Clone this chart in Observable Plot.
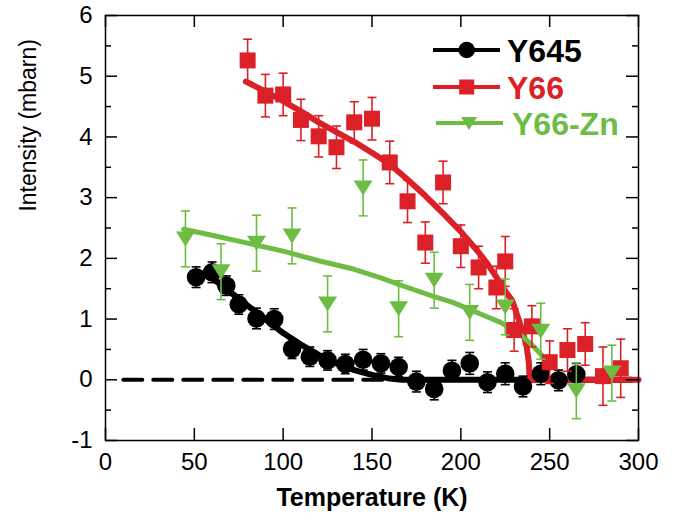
<!DOCTYPE html>
<html><head><meta charset="utf-8">
<script src="https://cdn.jsdelivr.net/npm/d3@7"></script>
<script src="https://cdn.jsdelivr.net/npm/@observablehq/plot@0.6"></script>
<style>body{margin:0;background:#fff} #chart{width:685px;height:522px}</style>
</head><body><div id="chart"></div>
<script>
// ---- data ----
const T645 = [51,60,68,75,85,95,105,115,125,135,145,155,165,175,185,195,205,215,225,235,245,255,265];
const I645 = [1.69,1.77,1.55,1.24,1.01,1.00,0.51,0.38,0.32,0.26,0.33,0.27,0.21,-0.03,-0.15,0.15,0.27,-0.04,0.10,-0.11,0.10,-0.01,0.09];
const E645 = [0.17,0.17,0.16,0.16,0.17,0.17,0.16,0.16,0.16,0.16,0.17,0.16,0.16,0.17,0.18,0.17,0.18,0.17,0.18,0.17,0.18,0.17,0.18];

const T66 = [80,90,100,110,120,130,140,150,160,170,180,190,200,210,220,225,230,240,250,260,270,280,290];
const I66 = [5.26,4.68,4.70,4.28,4.01,3.83,4.24,4.30,3.58,2.94,2.26,3.25,2.20,1.85,1.52,1.95,0.82,0.88,0.29,0.49,0.59,0.06,0.19];
const E66 = [0.35,0.35,0.35,0.34,0.34,0.35,0.34,0.35,0.35,0.35,0.34,0.35,0.35,0.35,0.35,0.41,0.35,0.34,0.35,0.35,0.35,0.48,0.48];

const TZn = [45,65,85,105,125,145,165,185,205,225,245,265,285];
const IZn = [2.32,1.78,2.25,2.37,1.25,3.16,1.17,1.64,1.11,1.20,0.80,-0.18,0.11];
const EZn = [0.46,0.46,0.46,0.46,0.46,0.46,0.46,0.46,0.46,0.46,0.46,0.46,0.46];

const fit645T = [58,70,80,90,100,110,120,130,140,150,160,167,296];
const fit645I = [1.72,1.45,1.22,1.0,0.77,0.58,0.41,0.27,0.16,0.08,0.02,0,0];
const fit66T = [79,90,100,110,120,130,140,150,160,170,180,190,200,210,215,220,225,229,232,235,237,238.3,238.8,300];
const fit66I = [4.91,4.75,4.59,4.42,4.24,4.08,3.92,3.74,3.55,3.30,3.03,2.74,2.44,2.10,1.91,1.69,1.46,1.30,1.04,0.78,0.55,0.28,0,0];
const fitZnT = [44,60,80,100,120,140,155,170,185,195,205,213,222,232,240,245,250];
const fitZnI = [2.48,2.38,2.25,2.12,1.96,1.82,1.68,1.52,1.37,1.28,1.16,1.06,0.95,0.78,0.58,0.42,0.27];

const baseT = [10,170];
const baseI = [0,0];

const xTicks = [0,50,100,150,200,250,300];
const yTicks = [-1,0,1,2,3,4,5,6];
const yMinor = [-0.5,0.5,1.5,2.5,3.5,4.5,5.5];
const seriesNames = ["Y645","Y66","Y66-Zn"];
const xTitle = "Temperature (K)";
const yTitle = "Intensity (mbarn)";

// ---- build ----
const BLACK = "#000000", RED = "#dc2028", GREEN = "#6dbd45";
const W = 685, H = 522, mL = 105, mR = 47, mT = 15, mB = 82;
const pw = W - mL - mR, ph = H - mT - mB;
const FONT = "Liberation Sans, Arial, Helvetica, sans-serif";

const pts = (T, I, E) => T.map((t, i) => ({T: t, I: I[i], e: E ? E[i] : 0}));
const d645 = pts(T645, I645, E645), d66 = pts(T66, I66, E66), dZn = pts(TZn, IZn, EZn);
const f645 = pts(fit645T, fit645I), f66 = pts(fit66T, fit66I), fZn = pts(fitZnT, fitZnI);
const base = pts(baseT, baseI);

const hcap = {draw(ctx){ ctx.moveTo(-4.5, 0); ctx.lineTo(4.5, 0); }};
const triDown = {draw(ctx){ ctx.moveTo(-9.5, -7.5); ctx.lineTo(9.5, -7.5); ctx.lineTo(0, 7.5); ctx.closePath(); }};
const sq = {draw(ctx){ ctx.rect(-8, -8, 16, 16); }};

function errMarks(data, color) {
  return [
    Plot.ruleX(data, {x: "T", y1: d => d.I - d.e, y2: d => d.I + d.e, stroke: color, strokeWidth: 1.6}),
    Plot.dot(data, {x: "T", y: d => d.I + d.e, symbol: hcap, stroke: color, strokeWidth: 1.6, fill: "none", r: 4}),
    Plot.dot(data, {x: "T", y: d => d.I - d.e, symbol: hcap, stroke: color, strokeWidth: 1.6, fill: "none", r: 4})
  ];
}

const chart = Plot.plot({
  width: W, height: H,
  marginLeft: mL, marginRight: mR, marginTop: mT, marginBottom: mB,
  style: {fontFamily: FONT, background: "#fff", color: "#000", overflow: "visible"},
  x: {domain: [0, 300]},
  y: {domain: [-1, 6]},
  marks: [
    Plot.line(base, {x: "T", y: "I", stroke: BLACK, strokeWidth: 4, strokeDasharray: "19,11"}),
    Plot.line(f645, {x: "T", y: "I", stroke: BLACK, strokeWidth: 6}),
    Plot.line(f66, {x: "T", y: "I", stroke: RED, strokeWidth: 6}),
    Plot.line(fZn, {x: "T", y: "I", stroke: GREEN, strokeWidth: 5}),
    ...errMarks(d645, BLACK),
    Plot.dot(d645, {x: "T", y: "I", r: 9.3, fill: BLACK, stroke: "none"}),
    ...errMarks(d66, RED),
    Plot.dot(d66, {x: "T", y: "I", symbol: sq, fill: RED, stroke: "none", r: 8}),
    ...errMarks(dZn, GREEN),
    Plot.dot(dZn, {x: "T", y: "I", symbol: triDown, fill: GREEN, stroke: "none", r: 8}),
    // inward ticks
    Plot.tickY(yTicks, {y: d => d, insetRight: pw - 12, stroke: BLACK, strokeWidth: 1.5}),
    Plot.tickY(yMinor, {y: d => d, insetRight: pw - 6, stroke: BLACK, strokeWidth: 1.5}),
    Plot.tickY(yTicks, {y: d => d, insetLeft: pw - 12, stroke: BLACK, strokeWidth: 1.5}),
    Plot.tickY(yMinor, {y: d => d, insetLeft: pw - 6, stroke: BLACK, strokeWidth: 1.5}),
    Plot.tickX(xTicks, {x: d => d, insetTop: ph - 12, stroke: BLACK, strokeWidth: 1.5}),
    Plot.tickX(xTicks, {x: d => d, insetBottom: ph - 12, stroke: BLACK, strokeWidth: 1.5}),
    Plot.frame({stroke: BLACK, strokeWidth: 1.5}),
    Plot.axisX({ticks: xTicks, tickSize: 0, tickPadding: 12, fontSize: 24, label: null, tickFormat: d => String(d)}),
    Plot.axisY({ticks: yTicks, tickSize: 0, tickPadding: 13, fontSize: 24, label: null, tickFormat: d => String(d)}),
    Plot.text([xTitle], {text: d => d, frameAnchor: "bottom", dy: 57, fontSize: 25, fontWeight: "bold", lineAnchor: "middle"}),
    Plot.text([yTitle], {text: d => d, frameAnchor: "left", y: () => 2.77, dx: -77, rotate: -90, fontSize: 23, lineAnchor: "middle"})
  ]
});
document.getElementById("chart").appendChild(chart);

// legend (inside the frame, top right)
const svg = d3.select(chart);
const lg = svg.append("g").attr("font-family", FONT).attr("font-weight", "bold").attr("font-size", 32).attr("text-anchor", "start");
const entries = [
  {name: seriesNames[0], color: BLACK, y: 50, x0: 433, x1: 500, mx: 466.7, tx: 507, kind: "circle"},
  {name: seriesNames[1], color: RED, y: 87, x0: 433, x1: 500, mx: 466.7, tx: 507, kind: "square"},
  {name: seriesNames[2], color: GREEN, y: 123, x0: 436, x1: 503, mx: 469, tx: 512, kind: "tri"}
];
for (const e of entries) {
  lg.append("line").attr("x1", e.x0).attr("x2", e.x1).attr("y1", e.y).attr("y2", e.y)
    .attr("stroke", e.color).attr("stroke-width", 4);
  if (e.kind === "circle") lg.append("circle").attr("cx", e.mx).attr("cy", e.y).attr("r", 8.3).attr("fill", e.color);
  else if (e.kind === "square") lg.append("rect").attr("x", e.mx - 7.5).attr("y", e.y - 7.5).attr("width", 15).attr("height", 15).attr("fill", e.color);
  else lg.append("path").attr("d", `M${e.mx-8},${e.y-6}L${e.mx+8},${e.y-6}L${e.mx},${e.y+7}Z`).attr("fill", e.color);
  lg.append("text").attr("x", e.tx).attr("y", e.y).attr("dy", "0.36em").attr("text-anchor", "start").attr("fill", e.color).text(e.name);
}
</script>
</body></html>
